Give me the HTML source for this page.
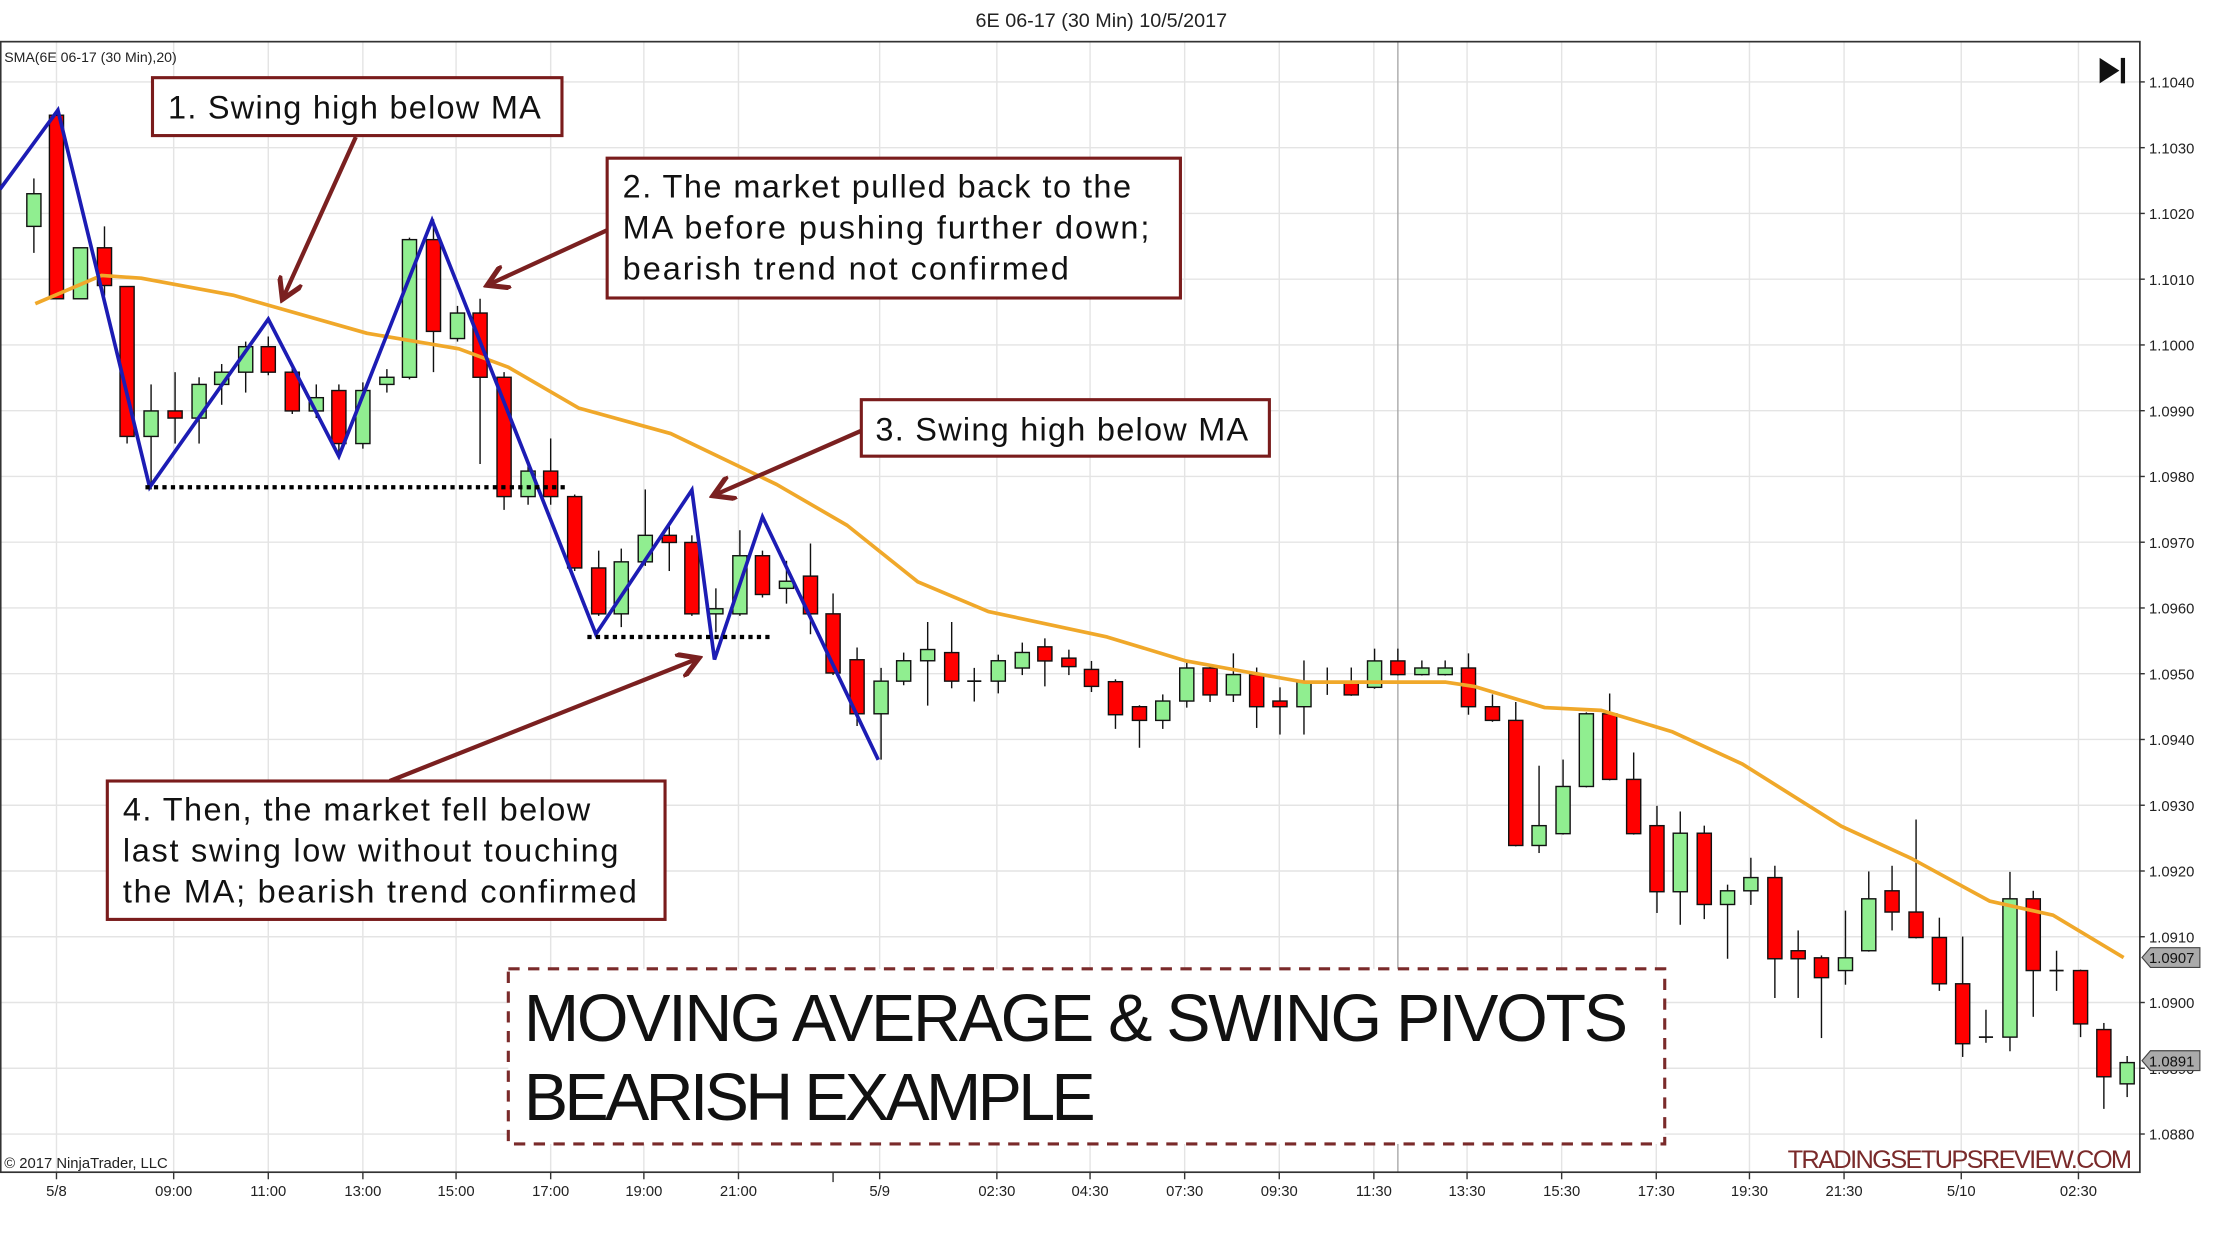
<!DOCTYPE html>
<html><head><meta charset="utf-8"><style>
html,body{margin:0;padding:0;background:#fff;}
svg{display:block;}
text{font-family:"Liberation Sans",sans-serif;}
</style></head><body>
<svg id="s" width="2214" height="1240" viewBox="0 0 1568 878" preserveAspectRatio="none" xmlns="http://www.w3.org/2000/svg">
<rect x="0" y="0" width="1568" height="878" fill="#fff"/>
<text x="780" y="19" font-size="14" text-anchor="middle" fill="#222">6E 06-17 (30 Min)  10/5/2017</text>
<g id="grid" stroke="#e4e4e4" stroke-width="1"></g>
<line x1="990" y1="30" x2="990" y2="830" stroke="#aaa" stroke-width="1"/>
<rect x="0.5" y="29.5" width="1515" height="800.5" fill="none" stroke="#333" stroke-width="1.2"/>
<g id="axis" font-size="10.5" fill="#222"></g>
<text x="3" y="44" font-size="10" fill="#222">SMA(6E 06-17 (30 Min),20)</text>
<text x="3" y="827" font-size="10.5" fill="#222">© 2017 NinjaTrader, LLC</text>
<g id="candles"></g>
<polyline fill="none" stroke="#f0a82a" stroke-width="2.6" stroke-linejoin="round" points="25,215 72,195 100,197 165,209 260,236 325,247 360,260 410,289 475,307 550,343 600,372 650,412 700,433 784,451 840,468 884,476 924,483 974,483 1024,483 1044,486 1094,501 1134,503 1184,518 1234,541 1304,585 1354,608 1409,638 1454,648 1504,678"/>
<polyline fill="none" stroke="#1c1cb4" stroke-width="2.6" stroke-linejoin="miter" points="0,134 41,78 106,345 190,226 240,323 306,156 422,449 490,347 506,467 540,366 622,538"/>
<line x1="103" y1="345" x2="402" y2="345" stroke="#000" stroke-width="3" stroke-dasharray="3,3"/>
<line x1="416" y1="451" x2="548" y2="451" stroke="#000" stroke-width="3" stroke-dasharray="3,3"/>
<defs><marker id="ah" markerWidth="6" markerHeight="6" refX="5" refY="3" orient="auto" markerUnits="strokeWidth"><path d="M0,0 L5,3 L0,6" fill="none" stroke="#7a2020" stroke-width="1.2"/></marker></defs>
<g stroke="#7a2020" stroke-width="3" fill="none">
<line x1="252" y1="97" x2="200" y2="212" marker-end="url(#ah)"/>
<line x1="430" y1="163" x2="345" y2="202" marker-end="url(#ah)"/>
<line x1="610" y1="305" x2="505" y2="351" marker-end="url(#ah)"/>
<line x1="276" y1="553" x2="495" y2="466" marker-end="url(#ah)"/>
</g>
<g fill="#fff" stroke="#7a1c1c" stroke-width="2.2">
<rect x="108" y="55" width="290" height="41"/>
<rect x="430" y="112" width="406" height="99"/>
<rect x="610" y="283" width="289" height="40"/>
<rect x="76" y="553" width="395" height="98"/>
</g>
<g font-size="23" fill="#111">
<text x="119" y="84" textLength="264">1. Swing high below MA</text>
<text x="441" y="140" textLength="360">2. The market pulled back to the</text>
<text x="441" y="169" textLength="373">MA before pushing further down;</text>
<text x="441" y="198" textLength="316">bearish trend not confirmed</text>
<text x="620" y="312" textLength="264">3. Swing high below MA</text>
<text x="87" y="581" textLength="331">4. Then, the market fell below</text>
<text x="87" y="610" textLength="351">last swing low without touching</text>
<text x="87" y="639" textLength="364">the MA; bearish trend confirmed</text>
</g>
<rect x="360" y="686" width="819" height="124" fill="#fff" stroke="#7a2a2a" stroke-width="2.2" stroke-dasharray="8,6"/>
<text x="371" y="737" font-size="47" fill="#111" textLength="782">MOVING AVERAGE &amp; SWING PIVOTS</text>
<text x="371" y="793" font-size="47" fill="#111" textLength="405">BEARISH EXAMPLE</text>
<text x="1510" y="827" font-size="18" fill="#7a2a2a" text-anchor="end" textLength="244">TRADINGSETUPSREVIEW.COM</text>
<g fill="#111"><path d="M1487,41 L1501,50 L1487,59 Z"/><rect x="1502" y="41" width="3" height="18"/></g>
<g font-size="10.5">
<path d="M1517,678 L1523,671 L1558,671 L1558,685 L1523,685 Z" fill="#aaa" stroke="#444" stroke-width="0.8"/>
<text x="1522" y="682" fill="#111">1.0907</text>
<path d="M1517,751 L1523,744 L1558,744 L1558,758 L1523,758 Z" fill="#aaa" stroke="#444" stroke-width="0.8"/>
<text x="1522" y="755" fill="#111">1.0891</text>
</g>
</svg>
<script>
var NS="http://www.w3.org/2000/svg";
function el(p,t,a,txt){var e=document.createElementNS(NS,t);for(var k in a)e.setAttribute(k,a[k]);if(txt!=null)e.textContent=txt;document.getElementById(p).appendChild(e);return e;}
// price grid
for(var i=0;i<=16;i++){var p=1.1040-i*0.001;var y=58+i*46.56;
 el("grid","line",{x1:0,y1:y,x2:1515,y2:y});
 el("axis","line",{x1:1515,y1:y,x2:1519,y2:y,stroke:"#333"});
 el("axis","text",{x:1522,y:y+4},p.toFixed(4));}
var tl=[[40,"5/8"],[123,"09:00"],[190,"11:00"],[257,"13:00"],[323,"15:00"],[390,"17:00"],[456,"19:00"],[523,"21:00"],[623,"5/9"],[706,"02:30"],[772,"04:30"],[839,"07:30"],[906,"09:30"],[973,"11:30"],[1039,"13:30"],[1106,"15:30"],[1173,"17:30"],[1239,"19:30"],[1306,"21:30"],[1389,"5/10"],[1472,"02:30"]];
tl.forEach(function(t){el("grid","line",{x1:t[0],y1:30,x2:t[0],y2:830});
 el("axis","line",{x1:t[0],y1:830,x2:t[0],y2:835,stroke:"#333"});
 el("axis","text",{x:t[0],y:847,"text-anchor":"middle"},t[1]);});
el("axis","line",{x1:590,y1:830,x2:590,y2:837,stroke:"#333"});
var C=[];
// zoom1 set (half units -> *0.722)
var A=[[24,'g',190,222,175,248],[40,'r',113,293,110,293],[57,'g',243,293,243,293],[74,'r',243,280,222,290],[90,'r',281,428,281,435],[107,'g',403,428,377,480],[124,'r',403,410,365,435],[141,'g',377,410,370,435],[157,'g',365,377,357,397],[174,'g',340,365,335,385],[190,'r',340,365,330,368],[207,'r',365,403,360,406],[224,'g',390,403,377,410],[240,'r',383,435,377,445],[257,'g',383,435,375,440],[274,'g',370,377,362,385],[290,'g',235,370,233,372],[307,'r',235,325,215,365],[324,'g',307,332,300,335],[340,'r',307,370,293,455],[357,'r',370,487,365,500],[374,'g',462,487,455,495],[390,'r',462,487,430,495],[407,'r',487,557,485,560],[424,'r',557,602,540,604],[440,'g',551,602,538,615],[457,'g',525,551,480,555],[474,'r',525,532,515,560],[490,'r',532,602,525,604],[507,'g',597,602,577,620],[524,'g',545,602,520,604],[540,'r',545,583,540,586],[557,'g',570,577,550,592],[574,'r',565,602,533,622],[590,'r',602,660,582,662],[607,'r',647,700,635,712],[624,'g',668,700,655,745],[640,'g',648,668,640,672],[657,'g',637,648,610,692],[674,'r',640,668,610,675],[690,'d',668,668,655,688],[707,'g',648,668,642,680]];
A.forEach(function(c){C.push([c[0],c[1],c[2]*0.722,c[3]*0.722,c[4]*0.722,c[5]*0.722]);});
C.push([724,'g',462,473,455,478],[740,'r',458,468,452,486],[757,'r',466,472,460,478],[773,'r',474,486,468,490]);
var B=[[12,'r',385,455,380,485],[46,'r',438,467,435,525],[79,'g',426,467,412,485],[113,'g',356,426,345,440],[146,'r',356,413,350,428],[179,'g',370,413,325,428],[212,'r',370,438,355,483],[245,'r',426,438,397,497],[279,'g',385,438,340,497],[312,'d',385,385,355,413],[346,'r',385,413,355,415],[379,'g',341,397,315,400],[412,'r',341,370,315,372],[446,'g',356,370,340,372],[479,'g',356,370,340,372],[512,'r',356,438,325,455],[546,'r',438,467,412,470],[579,'r',467,732,428,734],[612,'g',690,732,563,748],[646,'g',607,707,550,709],[679,'g',453,607,450,609],[712,'r',453,592,410,594],[746,'r',592,707,535,709],[779,'r',690,830,648,875],[812,'g',706,830,660,900],[846,'r',706,857,690,888],[879,'g',828,857,815,972],[912,'g',800,828,758,858],[946,'r',800,972,775,1055],[979,'r',955,972,912,1055],[1012,'r',970,1012,965,1140],[1046,'g',970,997,870,1027],[1079,'g',845,955,787,957],[1112,'r',828,873,775,912],[1146,'r',873,927,677,929],[1179,'r',927,1025,885,1040],[1212,'r',1025,1152,925,1180],[1245,'d',1138,1138,1080,1150],[1279,'g',845,1138,788,1168],[1312,'r',845,997,828,1095],[1345,'d',997,997,955,1040],[1379,'r',997,1110,995,1138],[1412,'r',1122,1222,1108,1290],[1445,'g',1192,1237,1178,1265]];
B.forEach(function(c){var f=function(v){return 354+v/2.992;};C.push([784+c[0]/2,c[1],f(c[2]),f(c[3]),f(c[4]),f(c[5])]);});
C.forEach(function(c){var x=c[0];
 el("candles","line",{x1:x,y1:c[4],x2:x,y2:c[5],stroke:"#111","stroke-width":1});
 if(c[1]=='d'){el("candles","line",{x1:x-5,y1:c[2],x2:x+5,y2:c[2],stroke:"#111","stroke-width":1.2});}
 else{var h=Math.max(c[3]-c[2],1.5);el("candles","rect",{x:x-5,y:c[2],width:10,height:h,fill:c[1]=='g'?"#90ee90":"#ff0000",stroke:"#111","stroke-width":1});}
});
</script>
</body></html>
